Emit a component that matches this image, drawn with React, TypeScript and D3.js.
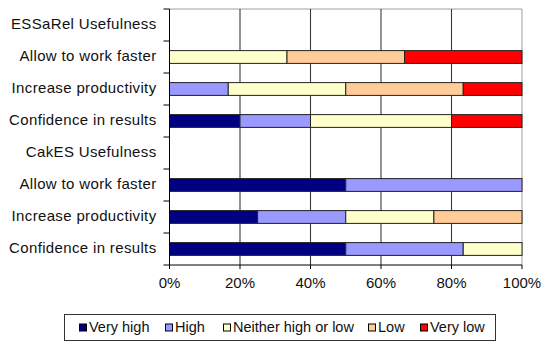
import React from "react";
import * as d3 from "d3";

const categories = [
  "ESSaRel Usefulness",
  "Allow to work faster",
  "Increase productivity",
  "Confidence in results",
  "CakES Usefulness",
  "Allow to work faster",
  "Increase productivity",
  "Confidence in results",
];
const seriesNames = ["Very high", "High", "Neither high or low", "Low", "Very low"];
const veryHigh = [0, 0, 0, 20, 0, 50, 25, 50];
const high = [0, 0, 16.67, 20, 0, 50, 25, 33.33];
const neither = [0, 33.33, 33.33, 40, 0, 0, 25, 16.67];
const low = [0, 33.33, 33.33, 0, 0, 0, 25, 0];
const veryLow = [0, 33.33, 16.67, 20, 0, 0, 0, 0];
const colors = ["#000080", "#9999FF", "#FFFFCC", "#FFCC99", "#FF0000"];
const xTicks = [0, 0.2, 0.4, 0.6, 0.8, 1];

const W = 542;
const H = 343;
const L = 169.5;
const R = 522;
const T = 9;
const B = 265;
const FONT = "'Liberation Sans', Arial, sans-serif";

export default function App() {
  const keys = ["vh", "h", "n", "l", "vl"];
  const rows = categories.map((c, i) => ({
    idx: String(i),
    vh: veryHigh[i],
    h: high[i],
    n: neither[i],
    l: low[i],
    vl: veryLow[i],
  }));
  const stacked = d3.stack<any>().keys(keys).offset(d3.stackOffsetExpand)(rows);
  const x = d3.scaleLinear().domain([0, 1]).range([L, R]);
  const y = d3
    .scaleBand<string>()
    .domain(categories.map((_, i) => String(i)))
    .range([T, B])
    .paddingInner(0.6)
    .paddingOuter(0.3);
  const step = (B - T) / categories.length;
  const legendX = [79, 165, 223, 368, 420];

  return (
    <svg width={W} height={H} style={{ position: "absolute", left: 0, top: 0 }} fontFamily={FONT}>
      <rect x={0} y={0} width={W} height={H} fill="#fff" />
      {/* plot border: top & right */}
      <line x1={L} x2={R} y1={T} y2={T} stroke="#a0a0a0" />
      <line x1={R} x2={R} y1={T} y2={B} stroke="#a0a0a0" />
      {/* gridlines */}
      {xTicks.slice(1, -1).map((t) => (
        <line key={t} x1={x(t)} x2={x(t)} y1={T} y2={B} stroke="#3a3a3a" strokeWidth={1.1} />
      ))}
      {/* bars */}
      {stacked.map((s, si) =>
        s.map((d, i) => {
          const w = x(d[1]) - x(d[0]);
          if (w <= 0.01 || isNaN(w)) return null;
          return (
            <rect
              key={si + "-" + i}
              x={x(d[0])}
              y={y(String(i))}
              width={w}
              height={y.bandwidth()}
              fill={colors[si]}
              stroke="#222"
              strokeWidth={1}
            />
          );
        })
      )}
      {/* left axis */}
      <line x1={L} x2={L} y1={T} y2={B} stroke="#000" />
      {d3.range(categories.length + 1).map((k) => (
        <line key={k} x1={L - 6} x2={L} y1={T + k * step} y2={T + k * step} stroke="#000" />
      ))}
      {categories.map((c, i) => (
        <text
          key={i}
          x={L - 13}
          y={(y(String(i)) as number) + y.bandwidth() / 2}
          dy="0.27em"
          textAnchor="end"
          fontSize={15}
          letterSpacing={0.35}
          fill="#111"
        >
          {c}
        </text>
      ))}
      {/* bottom axis */}
      <line x1={L} x2={R} y1={B} y2={B} stroke="#000" />
      {xTicks.map((t) => (
        <g key={t}>
          <line x1={x(t)} x2={x(t)} y1={B} y2={B + 4} stroke="#000" />
          <text x={x(t)} y={288} textAnchor="middle" fontSize={15} fill="#111">
            {d3.format(".0%")(t)}
          </text>
        </g>
      ))}
      {/* legend */}
      <rect x={64.5} y={314.5} width={431} height={26} fill="#fff" stroke="#333" />
      {seriesNames.map((n, i) => (
        <g key={n}>
          <rect x={legendX[i] + 0.5} y={324} width={7} height={7} fill={colors[i]} stroke="#000" />
          <text x={legendX[i] + 10} y={331.5} fontSize={14.5} fill="#111">
            {n}
          </text>
        </g>
      ))}
    </svg>
  );
}
